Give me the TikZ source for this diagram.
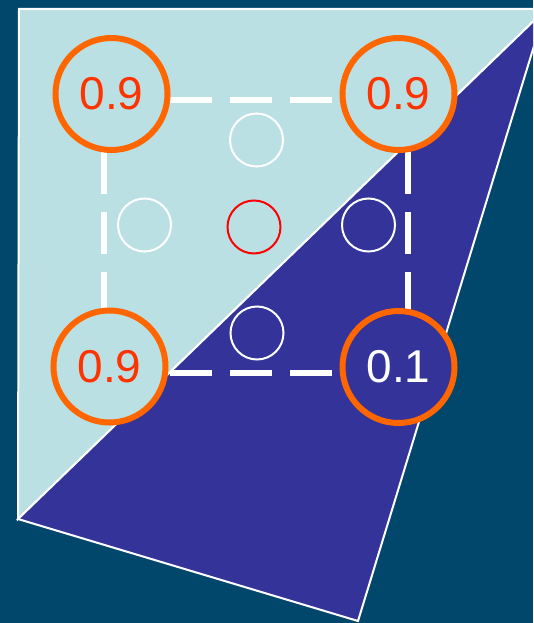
\documentclass[tikz,border=0pt]{standalone}
\usepackage{fontspec}
\setmainfont{Liberation Sans}
\definecolor{bgc}{HTML}{00476B}
\definecolor{lightc}{HTML}{BBE0E3}
\definecolor{darkb}{HTML}{333399}
\definecolor{orng}{HTML}{FF6600}
\definecolor{txtred}{HTML}{FF3300}
\begin{document}
\begin{tikzpicture}[x=1pt,y=-1pt,
  big/.style={circle,draw=orng,line width=6pt,minimum size=112pt,inner sep=0pt,
    font=\fontsize{46}{46}\selectfont},
  small/.style={circle,draw=white,line width=2pt,minimum size=53pt,inner sep=0pt},
  dline/.style={draw=white,line width=6pt,dash pattern=on 42pt off 18pt},
  edge/.style={draw=white,line width=2pt,line join=miter}]
\useasboundingbox (0,0) rectangle (533,623);
\clip (0,0) rectangle (533,623);
\fill[bgc] (0,0) rectangle (533,623);
% regions
\filldraw[edge,fill=lightc] (19,9) -- (560,9) -- (560,-5) -- (545,10) -- (18,519) -- cycle;
\filldraw[edge,fill=darkb] (545,10) -- (18,519) -- (358,621) -- cycle;
% dashed square corners
\coordinate (c1) at (104,100);
\coordinate (c2) at (408,100);
\coordinate (c3) at (408,373);
\coordinate (c4) at (104,373);
\draw[dline,dash phase=54pt] (c1) -- (c2);
\draw[dline,dash phase=8pt] (c2) -- (c3);
\draw[dline,dash phase=54pt] (c4) -- (c3);
\draw[dline,dash phase=8pt] (c1) -- (c4);
% big circles
\node[big,fill=lightc,text=txtred] (tl) at (111.5,94) {0.9};
\node[big,fill=lightc,text=txtred] (tr) at (398.5,94) {0.9};
\node[big,fill=lightc,text=txtred] (bl) at (109.5,366.5) {0.9};
\node[big,fill=darkb,text=white] (br) at (398.5,367) {0.1};
% small circles
\node[small] (s1) at (256.5,140) {};
\node[small] (s2) at (144.5,225) {};
\node[small,draw=red] (s3) at (254,227) {};
\node[small] (s4) at (368.5,225) {};
\node[small] (s5) at (257,333) {};
\end{tikzpicture}
\end{document}
